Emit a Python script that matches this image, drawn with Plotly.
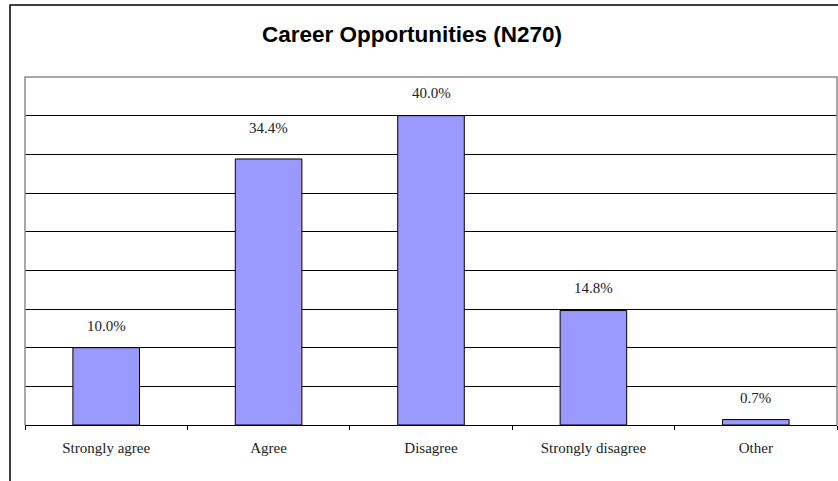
import plotly.graph_objects as go

# Survey responses, percentage of 270 respondents
categories = ["Strongly agree", "Agree", "Disagree", "Strongly disagree", "Other"]
percentages = [10.0, 34.4, 40.0, 14.8, 0.7]
label_texts = ["10.0%", "34.4%", "40.0%", "14.8%", "0.7%"]
label_offsets = [22, 31, 23, 23, 22]

title_text = "Career Opportunities (N270)"

W, H = 838, 481
ML, MR, MT, MB = 25, 1, 77, 56
pw, ph = W - ML - MR, H - MT - MB

fig = go.Figure()
fig.add_trace(go.Bar(
    x=categories,
    y=percentages,
    marker=dict(color="#9999FF", line=dict(color="#000000", width=1)),
    hoverinfo="x+y",
))

annotations = []
for cat, val, txt, off in zip(categories, percentages, label_texts, label_offsets):
    annotations.append(dict(
        x=cat, y=val, xref="x", yref="y", text=txt, showarrow=False,
        yanchor="middle", yshift=off,
        font=dict(family="Liberation Serif, Times New Roman, serif", size=15, color="#222222"),
    ))

annotations.append(dict(
    x=(411.5 - ML) / pw, y=1 + (MT - 34.5) / ph, xref="paper", yref="paper",
    text="<b>" + title_text + "</b>", showarrow=False,
    xanchor="center", yanchor="middle",
    font=dict(family="Liberation Sans, Arial, sans-serif", size=22.5, color="#000000"),
))

shapes = [
    # outer chart frame
    dict(type="rect", xref="paper", yref="paper",
         x0=(10 - ML) / pw, x1=1.2, y0=-0.5, y1=1 + (MT - 5) / ph,
         line=dict(color="#000000", width=1.5), layer="above"),
    # plot area frame (left, top, right)
    dict(type="path", xref="paper", yref="paper",
         path="M0,0 L0,1 L1,1 L1,0",
         line=dict(color="#8c8c8c", width=1.5), layer="above"),
]

fig.update_layout(
    width=W, height=H,
    margin=dict(l=ML, r=MR, t=MT, b=MB),
    paper_bgcolor="#ffffff", plot_bgcolor="#ffffff",
    showlegend=False,
    bargap=0.59,
    annotations=annotations,
    shapes=shapes,
)

fig.update_xaxes(
    type="category",
    tickson="boundaries",
    ticks="outside", ticklen=4, tickcolor="#000000", tickwidth=1,
    showline=True, linecolor="#000000", linewidth=1,
    showgrid=False,
    tickfont=dict(family="Liberation Serif, Times New Roman, serif", size=15, color="#222222"),
    ticklabelstandoff=9,
)
fig.update_yaxes(
    range=[0, 45], dtick=5,
    showticklabels=False, ticks="",
    showgrid=True, gridcolor="#000000", gridwidth=1,
    zeroline=False, showline=False,
)

fig.write_html("out.html")
